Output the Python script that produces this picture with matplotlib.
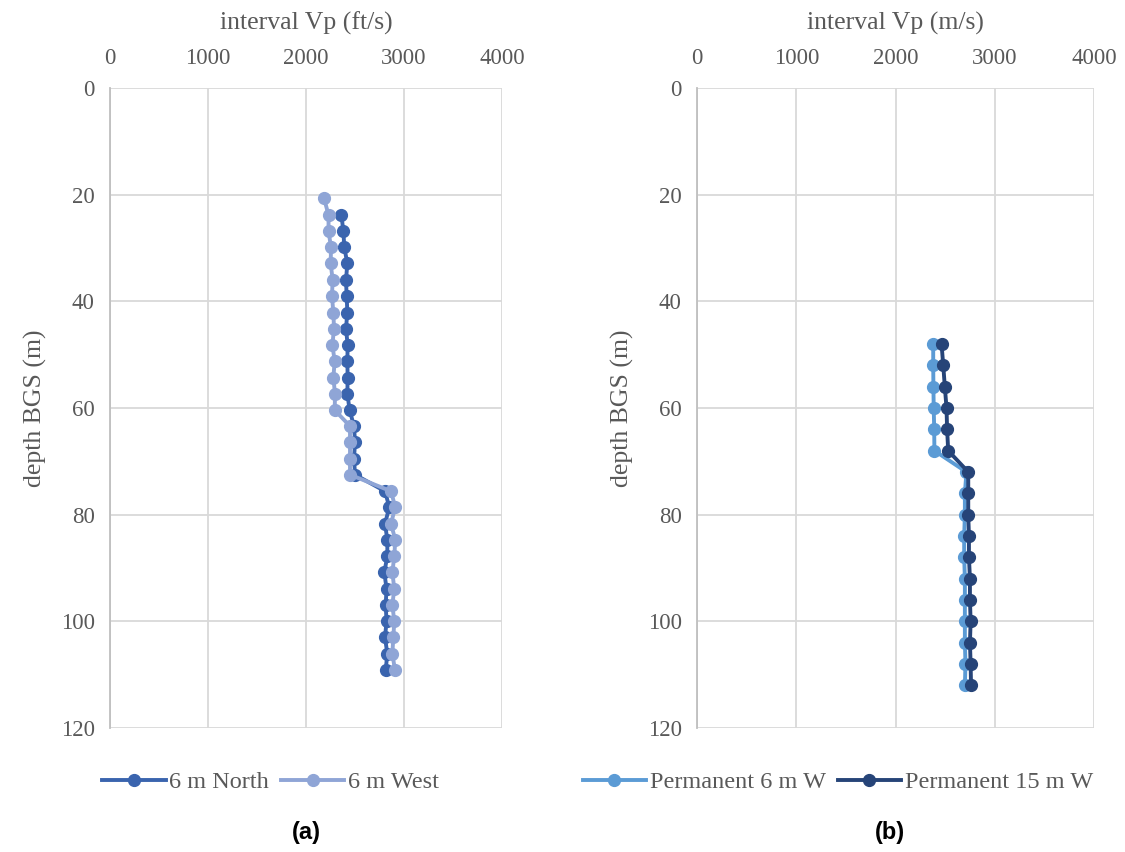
import matplotlib.pyplot as plt

# (a) geophone offsets, depth in m, Vp in ft/s
depth_west = [20.7, 23.8, 26.8, 29.9, 32.9, 36.0, 39.0, 42.1, 45.1, 48.2,
              51.2, 54.3, 57.3, 60.4, 63.4, 66.4, 69.5, 72.5, 75.6, 78.6,
              81.7, 84.7, 87.8, 90.8, 93.9, 96.9, 100.0, 103.0, 106.1, 109.1]
vp_west = [2184, 2230, 2230, 2255, 2252, 2272, 2265, 2279, 2286, 2269,
           2293, 2279, 2296, 2293, 2449, 2449, 2449, 2449, 2867, 2911,
           2867, 2911, 2901, 2881, 2901, 2881, 2901, 2891, 2881, 2908]

depth_north = depth_west[1:]
vp_north = [2361, 2381, 2391, 2422, 2408, 2415, 2422, 2408, 2425, 2422,
            2425, 2422, 2445, 2490, 2500, 2490, 2500, 2806, 2850, 2806,
            2830, 2830, 2799, 2822, 2813, 2822, 2806, 2830, 2813]

# (b) permanent lines
depth_perm = [48, 52, 56, 60, 64, 68, 72, 76, 80, 84, 88, 92, 96, 100, 104, 108, 112]
vp_perm6 = [2380, 2380, 2382, 2385, 2390, 2392, 2715, 2699, 2699, 2692, 2692,
            2699, 2699, 2699, 2699, 2705, 2699]
vp_perm15 = [2464, 2481, 2497, 2514, 2520, 2531, 2733, 2733, 2733, 2740, 2740,
             2750, 2750, 2757, 2750, 2757, 2761]

plt.rcParams['font.family'] = ['Liberation Serif', 'DejaVu Serif']
txt = '#595959'
grid_c = '#d9d9d9'

fig = plt.figure(figsize=(11.25, 8.52), dpi=100)
W, H = 1125, 852
ax1 = fig.add_axes([110 / W, 1 - 728 / H, 392 / W, 640 / H])
ax2 = fig.add_axes([697 / W, 1 - 728 / H, 397 / W, 640 / H])


def style(ax, xlabel):
    ax.set_xlim(0, 4000)
    ax.set_ylim(120, 0)
    ax.set_xticks([0, 1000, 2000, 3000, 4000])
    ax.set_yticks(range(0, 121, 20))
    ax.xaxis.tick_top()
    ax.xaxis.set_label_position('top')
    ax.tick_params(length=0, labelsize=16.5, colors=txt)
    ax.tick_params(axis='x', pad=14)
    ax.tick_params(axis='y', pad=11)
    ax.grid(True, color=grid_c, lw=1.3)
    ax.set_axisbelow(True)
    for s in ['top', 'right', 'bottom']:
        ax.spines[s].set_visible(False)
    ax.spines['left'].set_color('#bfbfbf')
    ax.spines['left'].set_linewidth(1.3)
    ax.set_xlabel(xlabel, fontsize=18.5, color=txt, labelpad=13)
    ax.set_ylabel('depth BGS (m)', fontsize=18.5, color=txt, labelpad=10)


kw = dict(marker='o', lw=2.8, ms=8.5)
ax1.plot(vp_north, depth_north, color='#3a64ae', label='6 m North', **kw)
ax1.plot(vp_west, depth_west, color='#8fa5d6', label='6 m West', **kw)
style(ax1, 'interval Vp (ft/s)')

ax2.plot(vp_perm6, depth_perm, color='#5b9bd5', label='Permanent 6 m W', **kw)
ax2.plot(vp_perm15, depth_perm, color='#264478', label='Permanent 15 m W', **kw)
style(ax2, 'interval Vp (m/s)')

for ax, x in [(ax1, 0.41), (ax2, 0.355)]:
    leg = ax.legend(loc='center', bbox_to_anchor=(x, -0.085), ncol=2, frameon=False,
                    fontsize=17.5, handlelength=2.6, handletextpad=0.15,
                    columnspacing=0.5, borderaxespad=0)
    for t in leg.get_texts():
        t.set_color(txt)

fig.text(306 / W, 1 - 832 / H, '(a)', fontsize=17, fontweight='bold',
         family='Liberation Sans', ha='center', va='center')
fig.text(890 / W, 1 - 832 / H, '(b)', fontsize=17, fontweight='bold',
         family='Liberation Sans', ha='center', va='center')

fig.savefig('out.png', dpi=100)
